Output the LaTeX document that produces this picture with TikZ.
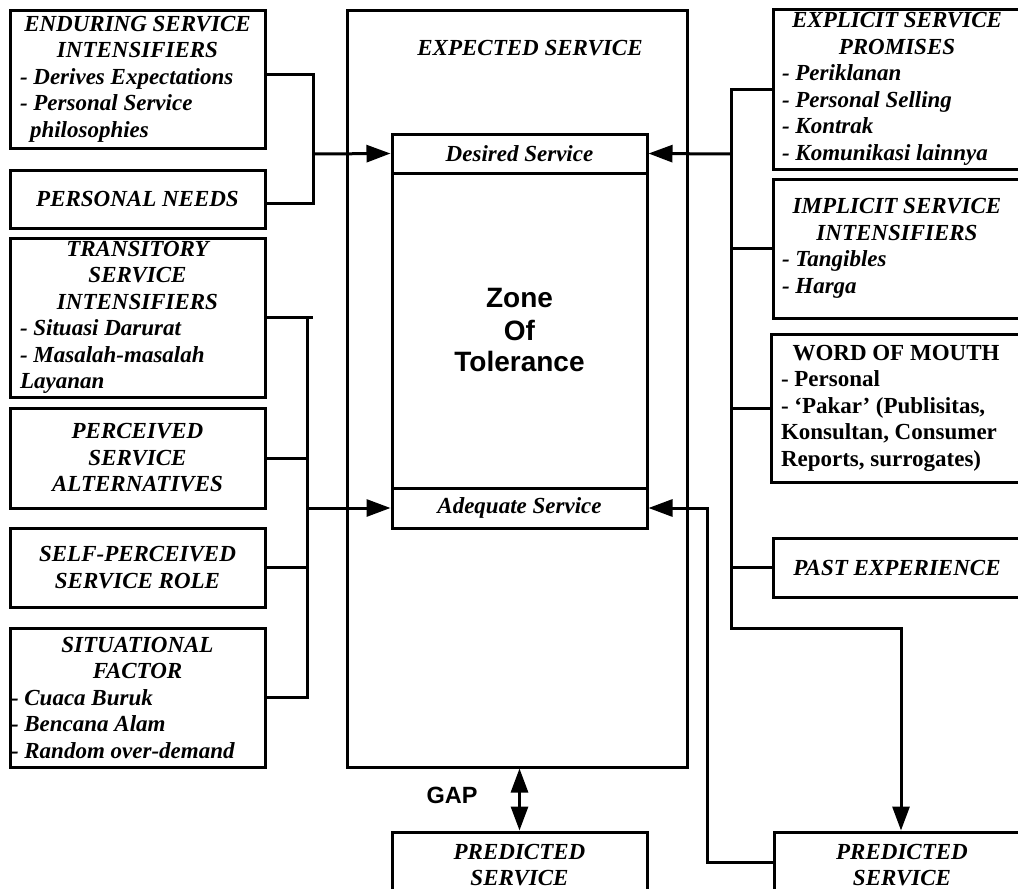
\documentclass[tikz,border=0pt]{standalone}
\usepackage{fontspec}
\setmainfont{Liberation Serif}
\newfontfamily\arialf{Liberation Sans}
\usetikzlibrary{arrows.meta}
\newcommand\lcline[1]{\makebox[235pt][c]{#1}}
\newcommand\lfline[1]{\makebox[235pt][l]{#1}}
\newcommand\rcline[1]{\makebox[230pt][c]{#1}}
\newcommand\rfline[1]{\makebox[230pt][l]{#1}}
\begin{document}
\begin{tikzpicture}[x=1pt,y=-1pt,
  box/.style={draw, line width=3pt, inner sep=0pt, align=left,
    font=\fontsize{23}{26.5}\selectfont\bfseries\itshape},
  conn/.style={line width=3pt},
  arr/.style={conn, -{Triangle[length=24pt,width=17pt]}},
  darr/.style={conn, {Triangle[length=24pt,width=17pt]}-{Triangle[length=24pt,width=17pt]}},
  ttl/.style={font=\fontsize{23}{26.5}\selectfont\bfseries\itshape}
]
\clip (0,0) rectangle (1018,889);
\fill[white] (0,0) rectangle (1018,889);

% central boxes
\node[draw, line width=3pt, minimum width=340pt, minimum height=757pt] (big) at (517,388.5) {};
\node[ttl] (extitle) at (530,48) {EXPECTED SERVICE};
\node[box, minimum width=255pt, minimum height=39pt] (des) at (519.5,153.5) {Desired Service};
\node[box, minimum width=255pt, minimum height=315pt, align=center,
  font=\arialf\fontsize{28}{32}\selectfont\bfseries] (zone) at (519.5,330.5) {Zone\\Of\\Tolerance};
\node[box, minimum width=255pt, minimum height=40pt] (ade) at (519.5,508) {Adequate Service};

% left boxes
\node[box, minimum width=255pt, minimum height=138pt] (b1) at (137.5,79)
  {\lcline{ENDURING SERVICE}\\\lcline{INTENSIFIERS}\\\lfline{- Derives Expectations}\\\lfline{- Personal Service}\\\lfline{\hspace*{10pt}philosophies}};
\node[box, minimum width=255pt, minimum height=58pt] (b2) at (137.5,199)
  {\lcline{PERSONAL NEEDS}};
\node[box, minimum width=255pt, minimum height=159pt] (b3) at (137.5,317.5)
  {\lcline{TRANSITORY}\\\lcline{SERVICE}\\\lcline{INTENSIFIERS}\\\lfline{- Situasi Darurat}\\\lfline{- Masalah-masalah}\\\lfline{Layanan}};
\node[box, minimum width=255pt, minimum height=100pt] (b4) at (137.5,458)
  {\lcline{PERCEIVED}\\\lcline{SERVICE}\\\lcline{ALTERNATIVES}};
\node[box, minimum width=255pt, minimum height=79pt] (b5) at (137.5,567.5)
  {\lcline{SELF-PERCEIVED}\\\lcline{SERVICE ROLE}};
\node[box, minimum width=255pt, minimum height=139pt] (b6) at (137.5,697.5)
  {\lcline{SITUATIONAL}\\\lcline{FACTOR}\\\lfline{\hspace*{-9pt}- Cuaca Buruk}\\\lfline{\hspace*{-9pt}- Bencana Alam}\\\lfline{\hspace*{-9pt}- Random over-demand}};

% right boxes
\node[box, minimum width=248pt, minimum height=160pt] (E) at (897,89)
  {\rcline{EXPLICIT SERVICE}\\\rcline{PROMISES}\\\rfline{- Periklanan}\\\rfline{- Personal Selling}\\\rfline{- Kontrak}\\\rfline{- Komunikasi lainnya}};
\node[box, minimum width=248pt, minimum height=139pt] (I) at (897,248.5)
  {\rcline{IMPLICIT SERVICE}\\\rcline{INTENSIFIERS}\\\rfline{- Tangibles}\\\rfline{- Harga}};
\node[box, minimum width=250pt, minimum height=148pt, font=\fontsize{23}{26.5}\selectfont\bfseries] (W) at (896,408)
  {\rcline{WORD OF MOUTH}\\\rfline{- Personal}\\\rfline{- ‘Pakar’ (Publisitas,}\\\rfline{Konsultan, Consumer}\\\rfline{Reports, surrogates)}};
\node[box, minimum width=248pt, minimum height=59pt] (P) at (897,567.5)
  {\rcline{PAST EXPERIENCE}};

% predicted service boxes
\node[box, minimum width=255pt, minimum height=66pt, align=center] (lpred) at (519.5,865) {PREDICTED\\SERVICE};
\node[box, minimum width=256pt, minimum height=66pt, align=center] (rpred) at (902,865) {PREDICTED\\SERVICE};

\node[font=\arialf\fontsize{23.5}{26}\selectfont\bfseries] (gap) at (452,795) {GAP};

% left connectors
\coordinate (jL1) at (313,154);
\draw[conn] ([yshift=5pt]b1.east) -| (jL1) |- ([yshift=-4pt]b2.east);
\draw[arr] (jL1) -- (des.west);

\coordinate (jL2) at (307,508);
\draw[conn] (b3.east) -- ++(46,0);
\draw[conn] (b3.east -| jL2) -- (b6.east -| jL2) -- (b6.east);
\draw[conn] (b4.east) -- (b4.east -| jL2);
\draw[conn] (b5.east) -- (b5.east -| jL2);
\draw[arr] (jL2) -- (ade.west);

% right connectors
\coordinate (jR1) at (731,154);
\coordinate (jR2) at (731,628);
\coordinate (jR3) at (901,628);
\draw[arr] (E.west) -| (jR2) -| (jR3 |- rpred.north);
\draw[conn] (I.west) -- (I.west -| jR1);
\draw[conn] (W.west) -- (W.west -| jR1);
\draw[conn] (P.west) -- (P.west -| jR1);
\draw[arr] (jR1) -- (des.east);

\coordinate (jF) at (707,508);
\draw[arr] ([yshift=3pt]rpred.west) -| (jF) -- (ade.east);

% gap
\draw[darr] (big.south -| lpred.north) -- (lpred.north);
\end{tikzpicture}
\end{document}
